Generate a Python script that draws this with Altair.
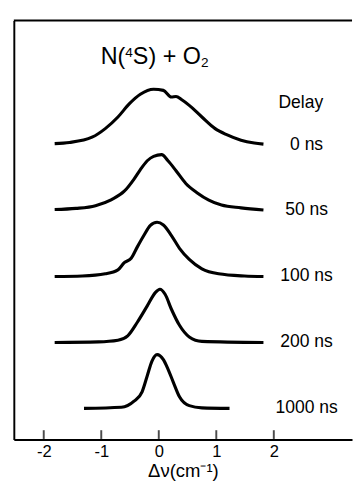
import altair as alt
import pandas as pd

# ---- data ----
delays = ["0 ns", "50 ns", "100 ns", "200 ns", "1000 ns"]
offsets = [4.76, 3.57, 2.38, 1.19, 0.0]

x_0ns = [-1.81, -1.55, -1.16, -0.93, -0.71, -0.51, -0.32, -0.09, 0.08, 0.22, 0.30, 0.40, 0.53, 0.75, 0.98, 1.18, 1.43, 1.66, 1.82]
i_0ns = [0.02, 0.04, 0.135, 0.29, 0.50, 0.74, 0.91, 1.00, 0.98, 0.86, 0.87, 0.81, 0.71, 0.50, 0.29, 0.18, 0.08, 0.03, 0.01]

x_50ns = [-1.81, -1.44, -1.10, -0.82, -0.60, -0.43, -0.32, -0.20, -0.09, 0.05, 0.16, 0.30, 0.47, 0.67, 0.87, 1.09, 1.43, 1.82]
i_50ns = [0.02, 0.04, 0.09, 0.20, 0.35, 0.57, 0.74, 0.90, 0.98, 1.01, 0.90, 0.72, 0.49, 0.32, 0.19, 0.10, 0.05, 0.01]

x_100ns = [-1.81, -1.33, -0.93, -0.71, -0.60, -0.48, -0.37, -0.26, -0.15, -0.03, 0.08, 0.22, 0.36, 0.53, 0.75, 1.04, 1.49, 1.82]
i_100ns = [0.0, 0.01, 0.05, 0.12, 0.25, 0.33, 0.54, 0.74, 0.92, 0.98, 0.93, 0.74, 0.51, 0.31, 0.14, 0.05, 0.01, 0.0]

x_200ns = [-1.81, -1.05, -0.71, -0.54, -0.37, -0.20, -0.06, 0.02, 0.11, 0.22, 0.36, 0.53, 0.75, 1.82]
i_200ns = [0.0, 0.01, 0.04, 0.12, 0.37, 0.66, 0.90, 0.96, 0.87, 0.60, 0.31, 0.10, 0.02, 0.0]

x_1000ns = [-1.30, -0.65, -0.43, -0.29, -0.20, -0.12, -0.03, 0.08, 0.16, 0.25, 0.36, 0.53, 0.75, 1.23]
i_1000ns = [0.0, 0.02, 0.13, 0.30, 0.59, 0.85, 0.97, 0.88, 0.71, 0.48, 0.21, 0.05, 0.01, 0.0]

x_ticks = [-2, -1, 0, 1, 2]

title_parts = ["N(", "4", "S) + O", "2"]
delay_header = "Delay"
x_title = "\u0394\u03bd(cm\u207b\u00b9)"

# ---- build tables ----
series = [(x_0ns, i_0ns), (x_50ns, i_50ns), (x_100ns, i_100ns), (x_200ns, i_200ns), (x_1000ns, i_1000ns)]
rows = []
for d, off, (xs, ys) in zip(delays, offsets, series):
    for k, (xv, yv) in enumerate(zip(xs, ys)):
        rows.append({"delay": d, "order": k, "x": xv, "y": off + yv})
curves = pd.DataFrame(rows)

labels = pd.DataFrame({"text": delays, "x": [2.57] * len(delays), "y": offsets})
header = pd.DataFrame({"text": [delay_header], "x": [2.47], "y": [5.51]})
ticks_df = pd.DataFrame({"x": x_ticks})

W, H = 348, 431
FONT = "Liberation Sans"

xscale = alt.Scale(domain=[-2.52, 3.36], nice=False, zero=False)
yscale = alt.Scale(domain=[-0.56, 7.0], nice=False, zero=False)

xaxis = alt.Axis(values=x_ticks, labelExpr="'' + datum.value", ticks=False, grid=False,
                 domainColor="black", domainWidth=2, labelFontSize=17,
                 labelColor="black", labelFont=FONT, labelPadding=5,
                 title=x_title, titleFontSize=19, titleFont=FONT,
                 titleFontWeight="normal", titleColor="black", titlePadding=2)
yaxis = alt.Axis(ticks=False, labels=False, grid=False, title=None,
                 domainColor="black", domainWidth=2)

base_lines = alt.Chart(curves).mark_line(color="black", strokeWidth=3.2, interpolate="monotone").encode(
    x=alt.X("x:Q", scale=xscale, axis=xaxis),
    y=alt.Y("y:Q", scale=yscale, axis=yaxis),
    detail="delay:N",
    order="order:Q",
)

# inward ticks on the x axis
tick_marks = alt.Chart(ticks_df).mark_tick(color="black", thickness=2, size=9, orient="vertical").encode(
    x=alt.X("x:Q", scale=xscale),
    y=alt.value(H - 5),
)

top_line = alt.Chart(ticks_df.head(1)).mark_rule(color="black", strokeWidth=2).encode(
    x=alt.value(0), x2=alt.value(W), y=alt.value(0)
)

label_marks = alt.Chart(labels).mark_text(fontSize=18, font=FONT, color="black", align="center", baseline="middle").encode(
    x=alt.X("x:Q", scale=xscale), y=alt.Y("y:Q", scale=yscale), text="text:N"
)
header_mark = alt.Chart(header).mark_text(fontSize=18, font=FONT, color="black", align="center", baseline="middle").encode(
    x=alt.X("x:Q", scale=xscale), y=alt.Y("y:Q", scale=yscale), text="text:N"
)

# title "N(4S) + O2" with raised 4 and lowered 2
title_anchor = {"x": -1.01, "y": 6.21}
title_sizes = [24, 14, 24, 14]
title_dx = [0, 25.3, 33.1, 103.1]
title_dy = [0, -8, 0, 3]
title_layers = []
for txt, fs, dx, dy in zip(title_parts, title_sizes, title_dx, title_dy):
    df = pd.DataFrame({"text": [txt], "x": [title_anchor["x"]], "y": [title_anchor["y"]]})
    title_layers.append(
        alt.Chart(df).mark_text(fontSize=fs, font=FONT, color="black", align="left",
                                baseline="alphabetic", dx=dx, dy=dy).encode(
            x=alt.X("x:Q", scale=xscale), y=alt.Y("y:Q", scale=yscale), text="text:N"
        )
    )

chart = alt.layer(base_lines, tick_marks, top_line, label_marks, header_mark, *title_layers).properties(
    width=W, height=H,
    padding={"left": 5, "top": 5, "right": 0, "bottom": 0},
).configure_view(strokeWidth=0, stroke="transparent")

chart.save("out.html", embed_options={"renderer": "svg", "actions": False})
